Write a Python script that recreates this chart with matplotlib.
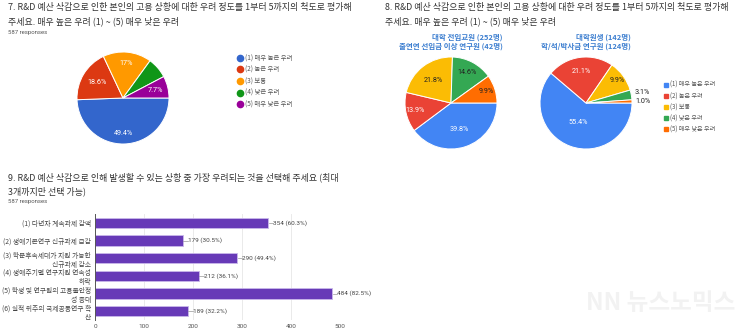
import matplotlib
matplotlib.use("Agg")
import matplotlib.pyplot as plt
from matplotlib.lines import Line2D
import numpy as np

plt.rcParams["font.family"] = ["Noto Sans CJK KR", "DejaVu Sans"]

W, H = 750, 333

# ── 데이터 ──
q7_labels = ["(1) 매우 높은 우려", "(2) 높은 우려", "(3) 보통", "(4) 낮은 우려", "(5) 매우 낮은 우려"]
q7_values = [49.4, 18.6, 17.0, 7.3, 7.7]
q7_text = ["49.4%", "18.6%", "17%", "", "7.7%"]

q8_labels = q7_labels
q8a_values = [39.8, 13.9, 21.8, 14.6, 9.9]
q8a_text = ["39.8%", "13.9%", "21.8%", "14.6%", "9.9%"]
q8b_values = [55.4, 21.1, 9.9, 3.1, 1.0]
q8b_text = ["55.4%", "21.1%", "9.9%", "3.1%", "1.0%"]

q9_labels = [
    "(1) 다년차 계속과제 감액",
    "(2) 생애기본연구 신규과제 급감",
    "(3) 학문후속세대가 지원 가능한\n신규과제 감소",
    "(4) 생애주기별 연구지원 연속성\n하락",
    "(5) 학생 및 연구원의 고용불안정\n성 증대",
    "(6) 실적 위주의 국제공동연구 확\n산",
]
q9_counts = [354, 179, 290, 212, 484, 189]
q9_pct = [60.3, 30.5, 49.4, 36.1, 82.5, 32.2]
q9_ticks = [0, 100, 200, 300, 400, 500]

# 配色
FORMS_COLORS = ["#3366cc", "#dc3912", "#ff9900", "#109618", "#990099"]
SHEETS_COLORS = ["#4285f4", "#ea4335", "#fbbc04", "#34a853", "#ff6d01"]
BAR_COLOR = "#673ab7"


def box(x, y, w, h):
    """픽셀 좌표 -> figure 좌표"""
    return [x / W, 1 - (y + h) / H, w / W, h / H]


def draw_pie(rect, values, colors, texts, radii, text_colors):
    ax = fig.add_axes(rect)
    wedges, _ = ax.pie(values, colors=colors, startangle=0, counterclock=False,
                       wedgeprops=dict(edgecolor="white", linewidth=0.7))
    for w, t, r, c in zip(wedges, texts, radii, text_colors):
        if not t:
            continue
        ang = np.deg2rad((w.theta1 + w.theta2) / 2)
        ax.text(r * np.cos(ang), r * np.sin(ang), t, ha="center", va="center",
                fontsize=5.2, color=c, family=["Roboto", "DejaVu Sans"])
    ax.set_xlim(-1, 1)
    ax.set_ylim(-1, 1)
    ax.axis("off")
    return ax


def legend(marker, colors, labels, x, y, spacing, size, fs):
    handles = [Line2D([], [], marker=marker, linestyle="none", markersize=size,
                      markerfacecolor=c, markeredgecolor=c) for c in colors]
    fig.legend(handles, labels, loc="upper left", bbox_to_anchor=(x / W, 1 - y / H),
               frameon=False, fontsize=fs, handlelength=0.6, handletextpad=0.4,
               labelspacing=spacing, borderpad=0, labelcolor="#555555")


fig = plt.figure(figsize=(7.5, 3.33), dpi=100)

title_kw = dict(fontsize=6.45, color="#333333", va="top", ha="left")
resp_kw = dict(fontsize=4.3, color="#555555", va="top", ha="left",
               family=["Roboto", "DejaVu Sans"])

# ── 7번 ──
fig.text(8 / W, 1 - 3 / H,
         "7. R&D 예산 삭감으로 인한 본인의 고용 상황에 대한 우려 정도를 1부터 5까지의 척도로 평가해\n"
         "주세요. 매우 높은 우려 (1) ~ (5) 매우 낮은 우려", linespacing=1.55, **title_kw)
fig.text(8 / W, 1 - 30 / H, "587 responses", **resp_kw)
draw_pie(box(77, 52, 92, 92), q7_values, FORMS_COLORS, q7_text,
         [0.78, 0.66, 0.76, 0.7, 0.72], ["white"] * 5)
legend("o", FORMS_COLORS, q7_labels, 235, 51, 0.55, 4.5, 4.6)

# ── 8번 ──
fig.text(385 / W, 1 - 3 / H,
         "8. R&D 예산 삭감으로 인한 본인의 고용 상황에 대한 우려 정도를 1부터 5까지의 척도로 평가해\n"
         "주세요. 매우 높은 우려 (1) ~ (5) 매우 낮은 우려", linespacing=1.55, **title_kw)
sub_kw = dict(fontsize=5.4, color="#3d7fd0", fontweight="bold", ha="right", va="top",
              linespacing=1.25)
fig.text(503 / W, 1 - 34 / H, "대학 전임교원 (252명)\n출연연 선임급 이상 연구원 (42명)", **sub_kw)
fig.text(631 / W, 1 - 34 / H, "대학원생 (142명)\n학/석/박사급 연구원 (124명)", **sub_kw)
draw_pie(box(405, 57, 92, 92), q8a_values, SHEETS_COLORS, q8a_text,
         [0.6, 0.8, 0.62, 0.74, 0.8], ["white", "white", "#222222", "#222222", "#222222"])
draw_pie(box(540, 57, 92, 92), q8b_values, SHEETS_COLORS, q8b_text,
         [0.46, 0.68, 0.85, 1.25, 1.25], ["white", "white", "#222222", "#222222", "#222222"])
legend("s", SHEETS_COLORS, q8_labels, 661, 78, 0.5, 2.6, 4.4)

# ── 9번 ──
fig.text(8 / W, 1 - 172 / H,
         "9. R&D 예산 삭감으로 인해 발생할 수 있는 상황 중 가장 우려되는 것을 선택해 주세요 (최대\n"
         "3개까지만 선택 가능)", linespacing=1.55, **title_kw)
fig.text(8 / W, 1 - 199 / H, "587 responses", **resp_kw)

ax = fig.add_axes(box(95, 214, 245, 106))
ypos = list(range(len(q9_counts)))
ax.barh(ypos, q9_counts, height=0.6, color=BAR_COLOR, edgecolor="#c9b8ea", linewidth=0.6,
        zorder=3)
for yv, c, p in zip(ypos, q9_counts, q9_pct):
    ax.plot([c + 1, c + 10], [yv, yv], color="#999999", linewidth=0.5, zorder=3)
    ax.text(c + 10, yv, f"{c} ({p}%)", ha="left", va="center", fontsize=4.6,
            color="#444444", family=["Roboto", "DejaVu Sans"], clip_on=False)
ax.set_xlim(0, 500)
ax.set_ylim(5.5, -0.5)
ax.set_xticks(q9_ticks)
ax.set_xticklabels([str(t) for t in q9_ticks], fontsize=4.6, color="#555555",
                   family=["Roboto", "DejaVu Sans"])
ax.set_yticks(ypos)
ax.set_yticklabels(q9_labels, fontsize=4.9, color="#444444", linespacing=1.25)
ax.tick_params(length=0, pad=3)
ax.grid(axis="x", color="#e6e6e6", linewidth=0.6, zorder=0)
for s in ["top", "right", "bottom"]:
    ax.spines[s].set_visible(False)
ax.spines["left"].set_color("#555555")
ax.spines["left"].set_linewidth(0.7)
ax.spines["left"].set_zorder(4)

# 워터마크
fig.text(735 / W, 1 - 303 / H, "NN 뉴스노믹스", fontsize=17, fontweight="bold",
         color="#f2f2f2", ha="right", va="center")

fig.savefig("out.png", dpi=100, facecolor="white")
